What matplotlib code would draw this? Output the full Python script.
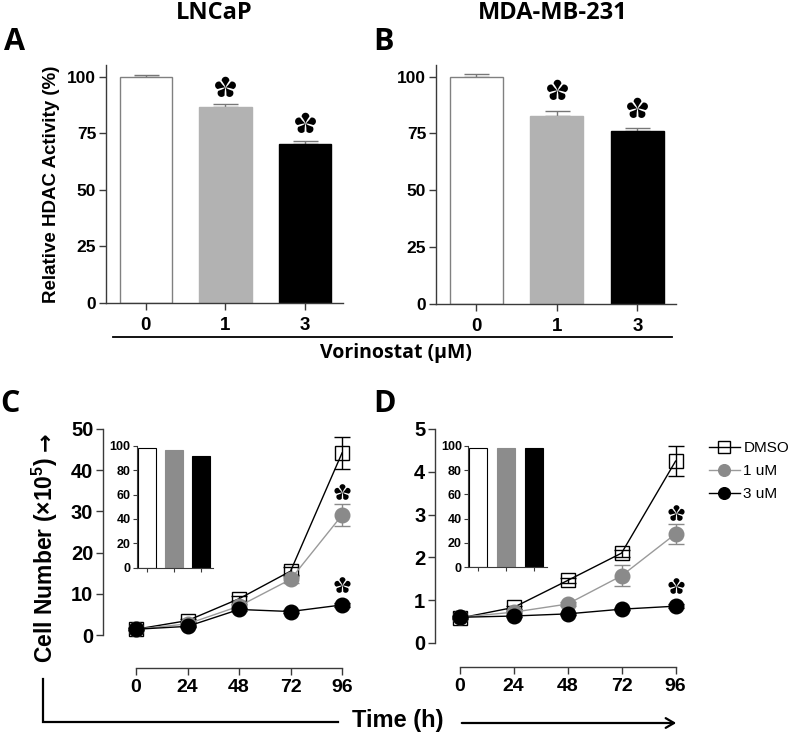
import numpy as np
import matplotlib
matplotlib.use("Agg")
import matplotlib.pyplot as plt
from matplotlib.path import Path
from matplotlib.lines import Line2D
from matplotlib.patches import FancyArrowPatch

# ---------------- data ----------------
conc_labels = ['0', '1', '3']
hdac_lncap = [100.0, 86.5, 70.2]
hdac_lncap_err = [0.6, 1.2, 1.4]
hdac_mda = [100.0, 82.6, 76.0]
hdac_mda_err = [1.0, 2.3, 1.5]

time_h = [0, 24, 48, 72, 96]
lncap_dmso = [1.4, 3.5, 8.8, 15.5, 44.2]
lncap_dmso_err = [0.3, 0.4, 0.6, 1.0, 3.9]
lncap_1um = [1.4, 2.7, 7.0, 13.5, 29.1]
lncap_1um_err = [0.3, 0.3, 0.5, 0.8, 2.7]
lncap_3um = [1.4, 2.1, 6.2, 5.7, 7.3]
lncap_3um_err = [0.2, 0.2, 0.4, 0.4, 0.5]

mda_dmso = [0.58, 0.83, 1.46, 2.10, 4.25]
mda_dmso_err = [0.03, 0.04, 0.06, 0.08, 0.35]
mda_1um = [0.60, 0.72, 0.91, 1.57, 2.55]
mda_1um_err = [0.03, 0.03, 0.05, 0.25, 0.23]
mda_3um = [0.60, 0.63, 0.68, 0.79, 0.86]
mda_3um_err = [0.02, 0.02, 0.03, 0.03, 0.04]

inset_lncap = [98.4, 96.5, 91.8]
inset_mda = [98.4, 97.8, 98.4]

legend_labels = ['DMSO', '1 uM', '3 uM']

# ---------------- figure ----------------
W, H = 796, 735
plt.rcParams['font.family'] = ['Liberation Sans', 'DejaVu Sans']
plt.rcParams['mathtext.fontset'] = 'custom'
plt.rcParams['mathtext.rm'] = 'Liberation Sans:bold'
plt.rcParams['mathtext.bf'] = 'Liberation Sans:bold'
fig = plt.figure(figsize=(W / 100, H / 100), dpi=100)
TITLE_FONT = ['Open Sans', 'DejaVu Sans']
ARIAL = ['Liberation Sans', 'DejaVu Sans']
SPINE = '#3a3a3a'


def rect(l, t, r, b):
    return [l / W, 1 - b / H, (r - l) / W, (b - t) / H]


def fx(x):
    return x / W


def fy(y):
    return 1 - y / H


# five-petal teardrop asterisk marker
def asterisk_path():
    c, r = 0.64, 0.36
    u1 = np.linspace(0, c, 25)
    h1 = r * (u1 / c) ** 1.3
    tip_t = np.linspace(-np.pi / 2, np.pi / 2, 30)
    tip_u = c + r * np.cos(tip_t)
    tip_h = r * np.sin(tip_t)
    us = np.concatenate([u1, tip_u[1:], u1[::-1][1:]])
    hs = np.concatenate([-h1, tip_h[1:], h1[::-1][1:]])
    verts = []
    for k in range(5):
        th = np.pi / 2 + k * 2 * np.pi / 5
        cs, sn = np.cos(th), np.sin(th)
        verts += [(uu * cs - hh * sn, uu * sn + hh * cs) for uu, hh in zip(us, hs)]
    verts.append(verts[0])
    return Path(verts, closed=True)


AST = asterisk_path()


def star(ax, x, y, size):
    ax.plot([x], [y], marker=AST, ms=size, color='black', mec='none', clip_on=False, zorder=6)


# ---------------- bar panels ----------------
bar_colors = ['white', '#b2b2b2', 'black']
bar_edges = ['#808080', '#b2b2b2', 'black']


def bar_panel(r, vals, errs, stars):
    ax = fig.add_axes(rect(*r))
    x = np.arange(len(vals))
    ax.bar(x, vals, width=0.66, color=bar_colors, edgecolor=bar_edges, linewidth=1.0, zorder=2)
    ax.errorbar(x, vals, yerr=[[0] * len(vals), errs], fmt='none', ecolor='#777777',
                elinewidth=1.0, capsize=9, capthick=1.0, zorder=1)
    ax.set_xlim(-0.5, 2.48)
    ax.set_ylim(0, 105.1)
    ax.set_yticks([0, 25, 50, 75, 100])
    ax.set_xticks(x)
    ax.set_xticklabels(conc_labels)
    for s in ['top', 'right']:
        ax.spines[s].set_visible(False)
    for s in ['left', 'bottom']:
        ax.spines[s].set_color(SPINE)
        ax.spines[s].set_linewidth(1.0)
    ax.tick_params(axis='y', length=5, width=1.0, color=SPINE, labelsize=12.5, pad=2)
    ax.tick_params(axis='x', length=5, width=1.0, color=SPINE, labelsize=13.5, pad=5)
    for lab in ax.get_xticklabels() + ax.get_yticklabels():
        lab.set_fontweight('bold')
    for (xi, yi) in stars:
        star(ax, xi, yi, 15.5)
    return ax


axA = bar_panel((106, 65, 343, 303), hdac_lncap, hdac_lncap_err, [(1, 95.4), (2, 79.5)])
axA.set_ylabel('Relative HDAC Activity (%)', fontsize=13.5, fontweight='bold', labelpad=5)
axB = bar_panel((436, 65, 676, 304), hdac_mda, hdac_mda_err, [(1, 94.3), (2, 86.4)])

fig.text(fx(214), fy(13), 'LNCaP', family=TITLE_FONT, fontsize=17, fontweight='bold',
         ha='center', va='center')
fig.text(fx(553), fy(13), 'MDA-MB-231', family=TITLE_FONT, fontsize=17, fontweight='bold',
         ha='center', va='center')

for lab, (xx, yy) in zip(['A', 'B', 'C', 'D'], [(15, 42), (384, 42), (10, 404), (384, 404)]):
    fig.text(fx(xx), fy(yy), lab, family=TITLE_FONT, fontsize=22, fontweight='bold',
             ha='center', va='center')

fig.add_artist(Line2D([fx(113), fx(672)], [fy(337), fy(337)], color='black', lw=1.3,
                      transform=fig.transFigure))
fig.text(fx(396), fy(353), 'Vorinostat (\u00b5M)', family=TITLE_FONT, fontsize=14,
         fontweight='bold', ha='center', va='center')

# ---------------- growth panels ----------------
def growth_panel(r, xlim, ylim, ytop, yticks, outward_px, series, errs, stars):
    ax = fig.add_axes(rect(*r))
    styles = [dict(marker='s', mfc='none', mec='black', color='black'),
              dict(marker='o', mfc='#8a8a8a', mec='#8a8a8a', color='#9a9a9a'),
              dict(marker='o', mfc='black', mec='black', color='black')]
    ecols = ['black', '#8a8a8a', 'black']
    handles = []
    for ys, es, st, ec, lab in zip(series, errs, styles, ecols, legend_labels):
        ax.errorbar(time_h, ys, yerr=es, fmt='none', ecolor=ec, elinewidth=1.0,
                    capsize=6, capthick=1.0, clip_on=False, zorder=2)
        h, = ax.plot(time_h, ys, lw=1.0, ms=10.5, mew=1.0, clip_on=False, zorder=3,
                     label=lab, **st)
        handles.append(h)
    ax.set_xlim(*xlim)
    ax.set_ylim(*ylim)
    ax.set_xticks(time_h)
    ax.set_yticks(yticks)
    for s in ['top', 'right']:
        ax.spines[s].set_visible(False)
    for s in ['left', 'bottom']:
        ax.spines[s].set_color(SPINE)
        ax.spines[s].set_linewidth(1.0)
    ax.spines['left'].set_bounds(0, ytop)
    ax.spines['bottom'].set_bounds(0, 96)
    ax.spines['bottom'].set_position(('outward', outward_px * 0.72))
    ax.tick_params(axis='y', length=5, width=1.0, color=SPINE, labelsize=14.5, pad=2)
    ax.tick_params(axis='x', length=5, width=1.0, color=SPINE, labelsize=14, pad=3)
    for lab in ax.get_xticklabels() + ax.get_yticklabels():
        lab.set_fontweight('bold')
    for (xi, yi) in stars:
        star(ax, xi, yi, 12)
    return ax, handles


axC, hC = growth_panel((103, 429, 350, 643), (-15.4, 99.7), (-1.94, 50), 50,
                       [0, 10, 20, 30, 40, 50], 25,
                       [lncap_dmso, lncap_1um, lncap_3um],
                       [lncap_dmso_err, lncap_1um_err, lncap_3um_err],
                       [(96, 34.7), (96, 12.1)])
axD, hD = growth_panel((435, 429, 683, 650), (-10.9, 99.3), (-0.164, 5), 5,
                       [0, 1, 2, 3, 4, 5], 17,
                       [mda_dmso, mda_1um, mda_3um],
                       [mda_dmso_err, mda_1um_err, mda_3um_err],
                       [(96, 3.04), (96, 1.33)])

fig.text(fx(45), fy(560), 'Cell Number (\u00d710$^{5}$)', family=ARIAL,
         fontsize=16.5, fontweight='bold', rotation=90, ha='center', va='center')
fig.text(fx(45), fy(442), '\u2192', family=['DejaVu Sans'],
         fontsize=16, fontweight='bold', rotation=90, ha='center', va='center')

leg = fig.legend(handles=hD, labels=legend_labels, loc='upper left',
                 bbox_to_anchor=(fx(709), fy(441)), frameon=False, fontsize=11,
                 markerscale=0.8, handlelength=2.0, handletextpad=0.25, labelspacing=0.6,
                 borderpad=0, borderaxespad=0)

# ---------------- insets ----------------
inset_colors = ['white', '#8c8c8c', 'black']
inset_edges = ['black', '#8c8c8c', 'black']


def inset(r, vals):
    ax = fig.add_axes(rect(*r))
    x = np.arange(len(vals))
    ax.bar(x, vals, width=0.65, color=inset_colors, edgecolor=inset_edges, linewidth=0.8)
    ax.set_xlim(-0.36, 2.45)
    ax.set_ylim(0, 100)
    ax.set_yticks([0, 20, 40, 60, 80, 100])
    ax.set_xticks(x)
    ax.set_xticklabels([])
    for s in ['top', 'right']:
        ax.spines[s].set_visible(False)
    for s in ['left', 'bottom']:
        ax.spines[s].set_color(SPINE)
        ax.spines[s].set_linewidth(0.8)
    ax.tick_params(axis='both', length=3, width=0.8, color=SPINE, labelsize=9, pad=1.5)
    for lab in ax.get_yticklabels():
        lab.set_fontweight('bold')
    return ax


inset((137, 445.7, 213, 567.7), inset_lncap)
inset((468, 445.7, 547, 567.3), inset_mda)

# ---------------- time bracket ----------------
fig.add_artist(Line2D([fx(43), fx(43), fx(338)], [fy(679), fy(722), fy(722)], color='black',
                      lw=1.6, transform=fig.transFigure, solid_joinstyle='miter'))
fig.text(fx(398), fy(720), 'Time (h)', family=ARIAL, fontsize=17, fontweight='bold',
         ha='center', va='center')
fig.add_artist(FancyArrowPatch((fx(459), fy(723)), (fx(679), fy(723)),
                               transform=fig.transFigure, arrowstyle='->,head_length=6,head_width=3.5',
                               color='black', lw=1.6, mutation_scale=1))

fig.savefig('out.png', dpi=100)
